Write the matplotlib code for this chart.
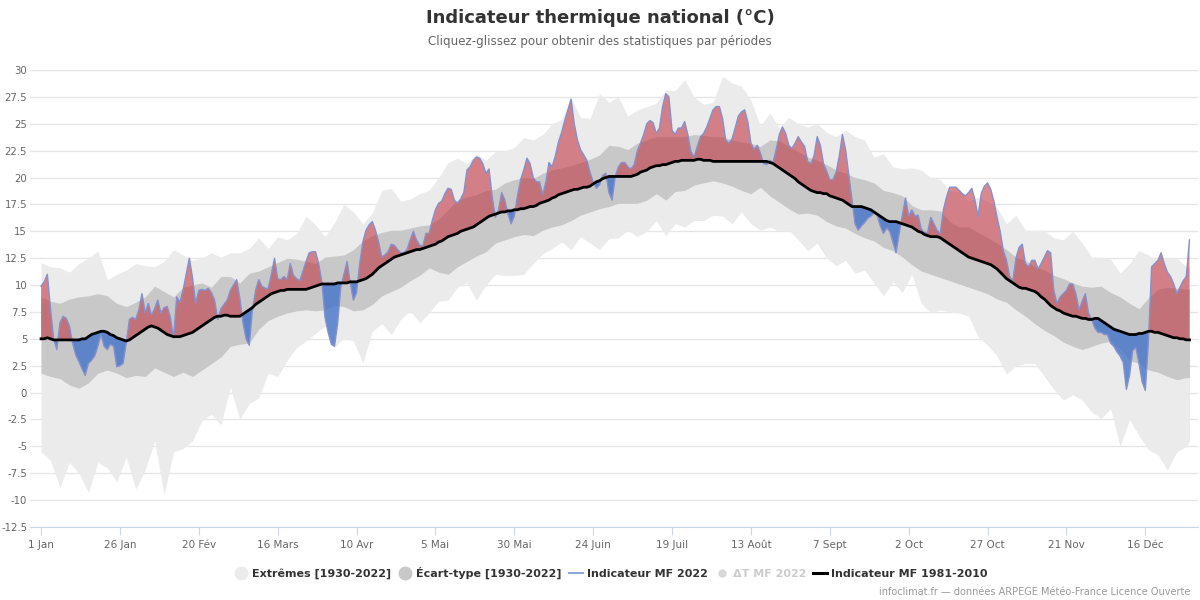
import numpy as np
import matplotlib
matplotlib.use("Agg")
import matplotlib.pyplot as plt
from matplotlib.lines import Line2D

# ---------------- data ----------------
# Indicateur thermique 2022 (daily, day 0 = 1 Jan)
t2022 = [
    9.9, 10.3, 11.0, 7.8, 5.0, 4.0, 6.5, 7.1, 6.9, 6.2,
    4.6, 3.5, 2.9, 2.2, 1.6, 2.7, 3.0, 3.4, 4.3, 5.4,
    4.3, 4.0, 4.5, 4.3, 2.4, 2.5, 2.7, 4.6, 6.8, 7.0,
    6.8, 7.7, 9.2, 7.4, 8.3, 7.2, 7.8, 8.6, 7.4, 7.9,
    8.0, 7.0, 5.1, 8.9, 8.4, 9.5, 11.0, 12.5, 10.7, 8.3,
    9.5, 9.6, 9.5, 9.7, 9.3, 8.6, 6.8, 7.8, 8.2, 8.6,
    9.5, 10.0, 10.5, 8.8, 6.5, 5.0, 4.4, 7.7, 9.5, 10.5,
    9.9, 9.7, 9.7, 11.0, 12.5, 10.6, 10.5, 10.8, 10.5, 12.0,
    10.9, 10.6, 10.4, 11.3, 12.2, 13.0, 13.1, 13.1, 12.0, 10.3,
    7.0, 5.6, 4.5, 4.3, 6.4, 9.8, 11.0, 12.2, 10.2, 8.6,
    9.3, 12.0, 14.0, 15.1, 15.6, 15.9, 15.1, 14.0, 12.6, 12.8,
    13.1, 13.8, 13.7, 13.3, 13.0, 13.0, 13.3, 14.2, 15.0, 14.2,
    13.7, 13.6, 14.8, 14.8, 16.0, 17.0, 17.6, 17.8, 18.5, 19.0,
    18.9, 17.9, 17.6, 18.0, 18.6, 20.7, 21.0, 21.6, 21.9, 21.8,
    21.3, 20.4, 20.8, 18.2, 16.3, 17.0, 18.6, 17.9, 16.6, 15.7,
    16.4, 18.3, 19.8, 20.7, 21.8, 21.3, 20.0, 19.6, 19.6, 18.4,
    19.6, 21.4, 21.0, 22.0, 23.3, 24.2, 25.3, 26.3, 27.3, 25.0,
    23.5, 22.6, 22.1, 21.6, 20.5, 19.6, 19.0, 19.3, 20.2, 20.4,
    18.6, 17.9, 20.1, 21.0, 21.4, 21.4, 21.0, 20.8, 21.2, 22.5,
    23.2, 24.0, 25.0, 25.3, 25.1, 24.1, 24.6, 26.6, 27.8, 27.5,
    24.4, 24.0, 24.6, 24.6, 25.2, 24.0, 22.4, 21.9, 22.9, 23.8,
    24.1, 24.7, 25.5, 26.3, 26.6, 26.6, 25.5, 23.5, 23.2, 23.6,
    24.6, 25.7, 26.1, 26.3, 25.2, 23.2, 22.6, 23.0, 22.3, 21.3,
    21.2, 21.6, 21.4, 22.6, 24.0, 24.7, 24.1, 23.0, 22.7, 23.2,
    23.8, 23.3, 22.9, 21.5, 21.3, 22.0, 23.8, 23.0, 21.3, 20.6,
    19.8, 19.8, 20.5, 22.0, 24.0, 22.6, 20.3, 18.0, 15.7, 15.1,
    15.5, 15.8, 16.2, 16.4, 16.7, 16.5, 15.5, 14.8, 15.3, 15.0,
    14.0, 13.0, 14.8, 16.5, 18.1, 16.4, 17.0, 16.4, 16.5, 15.2,
    14.9, 14.9, 16.3, 15.7, 15.1, 14.8, 17.0, 18.2, 19.1, 19.1,
    19.1, 18.8, 18.5, 18.3, 18.6, 19.0, 17.9, 16.4, 18.5, 19.2,
    19.5, 18.9, 17.8, 16.3, 15.0, 13.2, 12.3, 10.8, 10.4, 12.5,
    13.5, 13.8, 12.0, 11.7, 12.3, 12.3, 11.5, 12.0, 12.6, 13.2,
    13.0, 9.5, 8.3, 8.9, 9.2, 9.5, 10.1, 10.1, 9.2, 7.7,
    8.5, 9.2, 7.4, 6.8, 6.0, 5.6, 5.6, 5.4, 5.4, 4.6,
    4.3, 3.8, 3.4, 2.8, 0.3, 1.6, 3.9, 4.2, 2.7, 1.0,
    0.2, 4.8, 11.7, 12.0, 12.3, 13.0, 12.0, 11.2, 10.8, 10.1,
    9.2, 9.8, 10.4, 10.8, 14.2,
]

# Indicateur normal 1981-2010 (daily)
normal = [
    5.0, 5.0, 5.1, 5.0, 4.9, 4.9, 4.9, 4.9, 4.9, 4.9,
    4.9, 4.9, 4.9, 5.0, 5.0, 5.2, 5.4, 5.5, 5.6, 5.7,
    5.7, 5.6, 5.4, 5.3, 5.1, 5.0, 4.9, 4.8, 4.9, 5.1,
    5.3, 5.5, 5.7, 5.9, 6.1, 6.2, 6.1, 6.0, 5.8, 5.6,
    5.4, 5.3, 5.2, 5.2, 5.2, 5.3, 5.4, 5.5, 5.6, 5.8,
    6.0, 6.2, 6.4, 6.6, 6.8, 7.0, 7.1, 7.1, 7.2, 7.2,
    7.1, 7.1, 7.1, 7.1, 7.3, 7.5, 7.7, 7.9, 8.2, 8.4,
    8.6, 8.8, 9.0, 9.2, 9.3, 9.4, 9.5, 9.5, 9.6, 9.6,
    9.6, 9.6, 9.6, 9.6, 9.6, 9.7, 9.8, 9.9, 10.0, 10.1,
    10.1, 10.1, 10.1, 10.1, 10.2, 10.2, 10.2, 10.2, 10.3, 10.3,
    10.3, 10.4, 10.5, 10.6, 10.8, 11.0, 11.3, 11.6, 11.8, 12.0,
    12.2, 12.4, 12.6, 12.7, 12.8, 12.9, 13.0, 13.1, 13.2, 13.3,
    13.3, 13.4, 13.5, 13.6, 13.7, 13.8, 14.0, 14.1, 14.3, 14.5,
    14.6, 14.7, 14.8, 15.0, 15.1, 15.2, 15.3, 15.4, 15.6, 15.8,
    16.0, 16.2, 16.4, 16.5, 16.6, 16.7, 16.8, 16.8, 16.9, 16.9,
    17.0, 17.0, 17.1, 17.1, 17.2, 17.3, 17.3, 17.4, 17.6, 17.7,
    17.8, 17.9, 18.1, 18.2, 18.4, 18.5, 18.6, 18.7, 18.8, 18.9,
    18.9, 19.0, 19.1, 19.1, 19.2, 19.4, 19.6, 19.7, 19.9, 20.0,
    20.1, 20.1, 20.1, 20.1, 20.1, 20.1, 20.1, 20.1, 20.2, 20.3,
    20.5, 20.6, 20.7, 20.9, 21.0, 21.1, 21.1, 21.2, 21.2, 21.3,
    21.4, 21.5, 21.5, 21.6, 21.6, 21.6, 21.6, 21.6, 21.7, 21.7,
    21.6, 21.6, 21.6, 21.5, 21.5, 21.5, 21.5, 21.5, 21.5, 21.5,
    21.5, 21.5, 21.5, 21.5, 21.5, 21.5, 21.5, 21.5, 21.5, 21.5,
    21.5, 21.4, 21.3, 21.1, 20.9, 20.7, 20.5, 20.3, 20.1, 19.9,
    19.6, 19.4, 19.2, 19.0, 18.8, 18.7, 18.6, 18.6, 18.5, 18.5,
    18.3, 18.2, 18.1, 18.0, 17.9, 17.7, 17.5, 17.3, 17.3, 17.3,
    17.3, 17.2, 17.1, 17.0, 16.8, 16.6, 16.4, 16.2, 16.0, 15.9,
    15.9, 15.9, 15.8, 15.7, 15.6, 15.5, 15.4, 15.2, 15.0, 14.9,
    14.7, 14.6, 14.5, 14.5, 14.5, 14.4, 14.2, 14.0, 13.8, 13.6,
    13.4, 13.2, 13.0, 12.8, 12.6, 12.5, 12.4, 12.3, 12.2, 12.1,
    12.0, 11.9, 11.7, 11.5, 11.2, 10.9, 10.6, 10.4, 10.2, 10.0,
    9.8, 9.7, 9.7, 9.6, 9.5, 9.4, 9.2, 8.9, 8.7, 8.4,
    8.1, 7.9, 7.7, 7.6, 7.4, 7.3, 7.2, 7.1, 7.1, 7.0,
    6.9, 6.9, 6.8, 6.8, 6.9, 6.9, 6.7, 6.5, 6.3, 6.1,
    5.9, 5.8, 5.7, 5.6, 5.5, 5.4, 5.4, 5.4, 5.5, 5.5,
    5.6, 5.7, 5.7, 5.6, 5.6, 5.5, 5.4, 5.3, 5.2, 5.1,
    5.1, 5.0, 5.0, 4.9, 4.9,
]

# Bands sampled every 3 days
band_days = list(range(0, 364, 3)) + [364]

std_hi = [
    8.9, 8.5, 8.3, 8.7, 8.9, 9.0, 9.2, 9.0, 8.3, 8.0,
    8.4, 8.9, 9.9, 9.4, 8.9, 9.8, 10.0, 10.2, 9.8, 10.8,
    10.8, 10.2, 11.1, 11.3, 11.7, 12.1, 12.5, 12.4, 12.2, 12.0,
    12.6, 12.7, 12.8, 13.3, 14.1, 14.6, 14.9, 15.1, 15.1, 15.3,
    15.5, 15.6, 16.1, 17.0, 17.9, 18.2, 18.4, 18.8, 18.9, 19.5,
    19.8, 20.0, 19.9, 20.4, 20.7, 20.9, 21.1, 21.4, 21.7, 22.1,
    23.0, 22.9, 22.6, 23.2, 23.5, 23.8, 23.8, 23.8, 23.8, 24.0,
    23.9, 23.8, 23.8, 23.5, 23.3, 23.2, 22.9, 23.5, 23.4, 22.9,
    22.4, 21.9, 21.6, 21.2, 20.7, 20.4, 20.0, 19.8, 19.5, 18.8,
    18.6, 18.3, 17.4, 17.0, 17.0, 16.9, 15.9, 15.4, 15.4, 14.9,
    14.4, 13.9, 13.3, 12.6, 12.3, 11.7, 11.4, 10.9, 10.6, 10.2,
    9.9, 9.8, 9.9, 9.3, 8.9, 8.3, 7.8, 8.8, 9.6, 9.8,
    9.7, 9.6, 9.6,
]
std_lo = [
    1.8, 1.5, 1.3, 0.7, 0.4, 0.9, 1.8, 2.1, 1.8, 1.4,
    1.6, 1.5, 2.3, 1.9, 1.5, 1.9, 1.5, 2.1, 2.7, 3.3,
    4.3, 4.5, 4.6, 5.9, 6.7, 7.1, 7.4, 7.6, 7.7, 7.6,
    7.7, 8.1, 8.0, 7.6, 7.7, 8.2, 9.0, 9.4, 9.8, 10.4,
    10.9, 11.6, 11.2, 11.0, 11.7, 12.2, 12.7, 13.1, 13.9, 14.2,
    14.5, 14.7, 14.6, 15.1, 15.4, 15.6, 16.0, 16.5, 16.8, 17.1,
    17.3, 17.6, 17.6, 17.6, 17.9, 18.5, 17.9, 18.7, 18.8, 19.3,
    19.5, 19.7, 19.5, 19.2, 18.8, 18.5, 19.1, 18.3, 17.7, 17.1,
    16.6, 16.7, 16.5, 15.9, 15.5, 15.3, 14.8, 14.4, 14.1, 13.5,
    13.2, 12.6, 11.9, 11.3, 11.0, 10.7, 10.4, 10.1, 9.8, 9.5,
    9.2, 8.7, 8.4, 7.7, 7.1, 6.4, 5.8, 5.3, 4.7, 4.3,
    4.0, 4.3, 4.6, 4.8, 4.0, 3.0, 2.7, 2.1, 1.9, 1.5,
    1.2, 1.4, 1.4,
]
ext_hi = [
    12.1, 11.7, 11.6, 11.2, 12.0, 12.5, 13.2, 10.5, 11.0, 11.4,
    12.0, 11.8, 11.7, 12.2, 13.3, 12.8, 12.3, 12.5, 13.0, 12.6,
    13.0, 13.0, 13.4, 14.4, 13.4, 14.5, 14.2, 14.8, 16.4, 15.6,
    14.5, 15.8, 17.5, 16.8, 15.7, 16.7, 18.8, 19.0, 17.8, 18.0,
    18.5, 18.8, 20.0, 21.4, 21.8, 21.3, 22.2, 21.6, 22.4, 22.5,
    22.8, 23.7, 23.5, 24.0, 25.0, 25.4, 27.4, 25.6, 25.5, 27.8,
    27.0, 27.5, 25.7, 26.3, 26.6, 26.9, 28.1, 28.1, 29.1, 27.5,
    26.8, 27.0, 29.4, 28.8, 28.5, 27.2, 24.8, 26.0, 24.6, 25.6,
    25.0, 24.7, 25.0, 24.2, 23.8, 24.4, 23.8, 23.5, 21.9, 22.2,
    21.0, 20.8, 20.9, 20.7, 20.0, 19.8, 18.8, 18.7, 17.8, 18.2,
    17.8, 17.2, 15.7, 16.5, 15.1, 15.1, 15.1, 14.4, 14.2, 15.0,
    13.9, 12.6, 12.6, 12.4, 11.1, 12.0, 13.2, 12.8, 12.3, 12.6,
    12.5, 11.7, 11.7,
]
ext_lo = [
    -5.5, -6.3, -8.8, -6.5, -7.5, -9.3, -6.5, -7.0, -8.3, -6.0,
    -9.0, -7.2, -4.5, -9.5, -5.5, -5.2, -4.5, -2.6, -2.0, -3.0,
    0.5, -2.5, -1.0, -0.5, 1.8, 1.5, 3.0, 4.2, 4.8, 5.5,
    6.2, 4.2, 5.1, 4.8, 2.8, 5.7, 6.4, 5.4, 6.8, 7.6,
    6.5, 7.4, 8.5, 8.6, 9.8, 10.2, 8.6, 10.0, 11.0, 10.9,
    10.9, 11.0, 12.0, 12.9, 13.4, 14.0, 13.3, 14.5, 13.9, 13.3,
    14.3, 14.4, 15.1, 14.5, 15.0, 16.0, 14.6, 15.7, 15.4, 16.0,
    16.0, 16.5, 16.4, 15.7, 16.8, 15.7, 15.1, 15.4, 15.0, 15.1,
    14.2, 13.2, 13.9, 12.5, 11.8, 12.3, 11.1, 11.4, 10.2, 9.0,
    10.3, 9.3, 11.0, 8.3, 7.4, 7.7, 7.5, 7.4, 7.1, 5.2,
    4.4, 3.4, 1.7, 2.5, 2.7, 2.7, 1.5, 0.3, -0.7, -0.2,
    -0.7, -1.8, -2.4, -1.5, -5.0, -2.5, -4.0, -5.3, -5.8, -7.2,
    -5.5, -5.0, -4.5,
]

tick_days = [0, 25, 50, 75, 100, 125, 150, 175, 200, 225, 250, 275, 300, 325, 350]
tick_labels = ["1 Jan", "26 Jan", "20 Fév", "16 Mars", "10 Avr", "5 Mai", "30 Mai",
               "24 Juin", "19 Juil", "13 Août", "7 Sept", "2 Oct", "27 Oct", "21 Nov", "16 Déc"]
y_ticks = [-12.5, -10, -7.5, -5, -2.5, 0, 2.5, 5, 7.5, 10, 12.5, 15, 17.5, 20, 22.5, 25, 27.5, 30]

# ---------------- plot ----------------
plt.rcParams["font.family"] = ["DejaVu Sans"]
fig = plt.figure(figsize=(12, 6), dpi=100)
ax = fig.add_axes([30 / 1200, 73 / 600, 1168 / 1200, 457 / 600])

days = np.arange(len(t2022))
t = np.array(t2022)
n = np.array(normal)

ax.fill_between(band_days, ext_lo, ext_hi, color="#ebebeb", lw=0, zorder=1)
ax.fill_between(band_days, std_lo, std_hi, color="#c8c8c8", lw=0, zorder=2)
ax.fill_between(days, n, t, where=t >= n, interpolate=True, color="#c0323f",
                alpha=0.58, lw=0, zorder=3)
ax.fill_between(days, n, t, where=t <= n, interpolate=True, color="#3a6cc8",
                alpha=0.75, lw=0, zorder=3)
ax.plot(days, t, color="#8590cc", lw=1.0, zorder=4)
ax.plot(days, n, color="black", lw=2.0, zorder=5)

ax.set_xlim(-3.5, 366.7)
ax.set_ylim(-12.5, 30)
ax.set_yticks(y_ticks)
ax.set_yticklabels([f"{v:g}" for v in y_ticks])
ax.set_xticks(tick_days)
ax.set_xticklabels(tick_labels)
ax.grid(axis="y", color="#e6e6e6", lw=1, zorder=0)
ax.set_axisbelow(True)
for s in ["top", "right", "left"]:
    ax.spines[s].set_visible(False)
ax.spines["bottom"].set_color("#ccd6eb")
ax.tick_params(axis="y", length=0, labelsize=7.3, labelcolor="#666666", pad=2)
ax.tick_params(axis="x", length=6, color="#ccd6eb", labelsize=7.5, labelcolor="#666666", pad=3)

fig.text(0.5, 1 - 18 / 600, "Indicateur thermique national (°C)", ha="center", va="center",
         fontsize=13, fontweight="bold", color="#333333")
fig.text(0.5, 1 - 42 / 600, "Cliquez-glissez pour obtenir des statistiques par périodes",
         ha="center", va="center", fontsize=8.6, color="#666666")

handles = [
    Line2D([], [], marker="o", ls="", markersize=9, color="#ebebeb"),
    Line2D([], [], marker="o", ls="", markersize=9, color="#c8c8c8"),
    Line2D([], [], color="#8fa8dc", lw=1.5),
    Line2D([], [], marker="o", ls="", markersize=5, color="#d8d8d8"),
    Line2D([], [], color="black", lw=2.2),
]
labels = ["Extrêmes [1930-2022]", "Écart-type [1930-2022]", "Indicateur MF 2022",
          "ΔT MF 2022", "Indicateur MF 1981-2010"]
leg = fig.legend(handles, labels, loc="center", bbox_to_anchor=(0.509, 1 - 573 / 600),
                 ncol=5, frameon=False, fontsize=8, handlelength=1.3,
                 columnspacing=0.6, handletextpad=0.35)
for i, txt in enumerate(leg.get_texts()):
    txt.set_fontweight("bold")
    txt.set_color("#cccccc" if i == 3 else "#333333")

fig.text(1 - 10 / 1200, 1 - 592 / 600,
         "infoclimat.fr — données ARPEGE Météo-France Licence Ouverte",
         ha="right", va="center", fontsize=7, color="#999999")

fig.savefig("out.png", dpi=100)
